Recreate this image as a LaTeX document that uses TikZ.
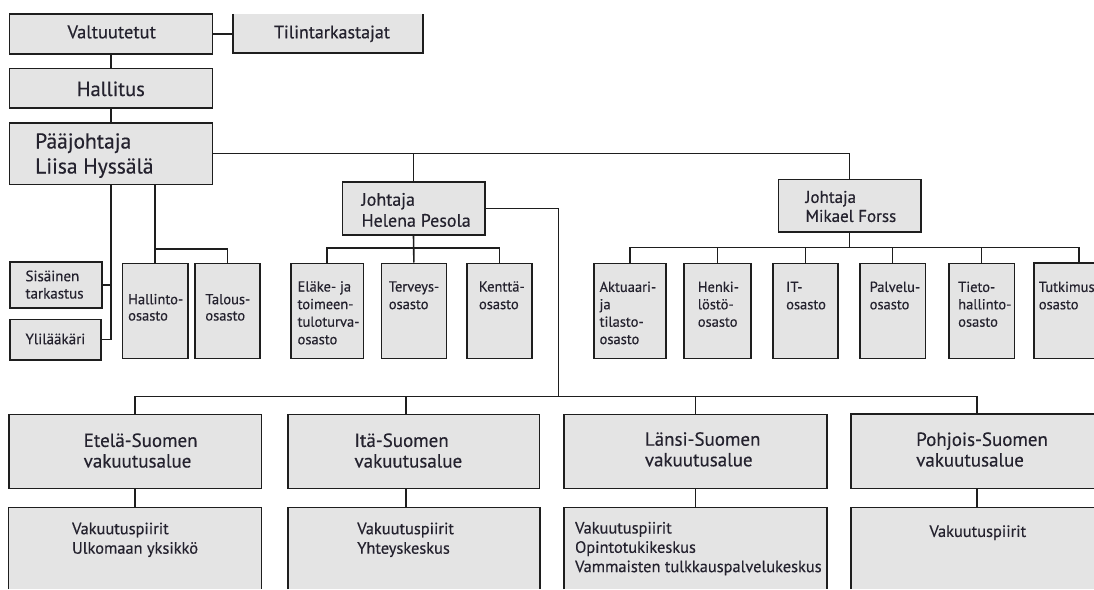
\documentclass[tikz,border=0pt]{standalone}
\usepackage{fontspec}
\setmainfont{PT Sans}[FakeBold=0.4]
\usetikzlibrary{fit}
\definecolor{boxfill}{HTML}{E4E4E4}
\definecolor{ink}{HTML}{1E1E1E}
\definecolor{txt}{HTML}{24222E}
\newcommand{\fs}[2]{\fontsize{#1}{#2}\selectfont}
\newcommand{\tp}{\rule{0pt}{0.85em}}
\tikzset{
  box/.style={draw=ink, line width=1.6pt, fill=boxfill, inner sep=0pt, rectangle},
  openbox/.style={draw=none, fill=boxfill, inner sep=0pt, rectangle},
  edge/.style={draw=ink, line width=1.6pt},
  lbl/.style={anchor=north west, inner sep=0pt, align=left, text=txt},
  clbl/.style={anchor=base, inner sep=0pt, text=txt},
}
% name, x, first baseline, size, leading, text
\newcommand{\tx}[6]{\node[lbl,font=\fs{#4}{#5}] (#1) at ({#2},{#3-0.85*#4}) {\tp #6};}
\begin{document}
\begin{tikzpicture}[x=1pt,y=-1pt]
\useasboundingbox (0,0) rectangle (1094,589);
% ---- boxes
\node[box, fit={(9.5,14) (212.6,54)}] (valt) {};
\node[openbox, fit={(233.2,14) (422.7,52.7)}] (tili) {};
\draw[edge] (tili.north west) -- (tili.south west) -- (tili.south east) -- (tili.north east);
\node[box, fit={(9.5,68.3) (212.6,107.7)}] (hall) {};
\node[box, fit={(9.5,122.7) (212.6,184.3)}] (paa) {};
\node[box, fit={(342.3,182) (484.7,235)}] (hel) {};
\node[box, fit={(778.3,179.3) (921,232)}] (mik) {};
\node[box, fit={(9.8,261.7) (102.1,307.7)}] (sis) {};
\node[box, fit={(9.8,319.3) (100.7,360)}] (yli) {};
\node[box, fit={(122.4,263.3) (187.7,358.3)}] (hal) {};
\node[box, fit={(195,263.3) (259.9,358.3)}] (tal) {};
\node[box, fit={(291.1,263.3) (363.4,358.3)}] (ela) {};
\node[box, fit={(381.3,263.3) (446.5,358.3)}] (ter) {};
\node[box, fit={(466.9,263.3) (532.1,358.3)}] (ken) {};
\node[box, fit={(594.2,263.3) (665.7,358.3)}] (akt) {};
\node[box, fit={(684,263.3) (751,358.3)}] (hen) {};
\node[box, fit={(773,263.3) (838,358.3)}] (it) {};
\node[box, fit={(859.7,263.3) (925.6,358.3)}] (pal) {};
\node[box, fit={(948.8,263.3) (1014.4,358.3)}] (tie) {};
\node[openbox, fit={(1034,263.3) (1094,358.3)}] (tut) {};
\draw[edge] (tut.north east) -- (tut.north west) -- (tut.south west) -- (tut.south east);
\node[box, fit={(8.8,414.3) (261.3,488.3)}] (ete) {};
\node[box, fit={(288,414.3) (539.5,488.3)}] (ita) {};
\node[box, fit={(564,414.3) (826.7,488.3)}] (lan) {};
\node[openbox, fit={(851.3,414.3) (1094,488.3)}] (poh) {};
\draw[edge] (poh.north east) -- (poh.north west) -- (poh.south west) -- (poh.south east);
\node[openbox, fit={(8.8,507.7) (261.3,589)}] (ete2) {};
\draw[edge] (ete2.south west) -- (ete2.north west) -- (ete2.north east) -- (ete2.south east);
\node[openbox, fit={(288,507.7) (539.5,589)}] (ita2) {};
\draw[edge] (ita2.south west) -- (ita2.north west) -- (ita2.north east) -- (ita2.south east);
\node[openbox, fit={(564,507.7) (826.7,589)}] (lan2) {};
\draw[edge] (lan2.south west) -- (lan2.north west) -- (lan2.north east) -- (lan2.south east);
\node[openbox, fit={(851.3,507.7) (1094,589)}] (poh2) {};
\draw[edge] (poh2.south west) -- (poh2.north west) -- (poh2.north east);
% ---- connectors
\draw[edge] (valt.east) -- (valt.east -| tili.west);
\draw[edge] (valt.south) -- (hall.north);
\draw[edge] (hall.south) -- (paa.north);
\draw[edge] (paa.east) -| (mik.north);
\draw[edge] (hel.north) -- (hel.north |- paa.east);
\draw[edge] (paa.south) |- (yli.east);
\draw[edge] (sis.east) -- (sis.east -| paa.south);
\coordinate (hbar) at ([yshift=13.3pt]hal.north);
\draw[edge] (hal.north) -- (hal.north |- paa.south);
\draw[edge] (hbar) -| (tal.north);
\coordinate (ebar) at ([yshift=14.3pt]ela.north);
\draw[edge] (hel.south) -- (ter.north);
\draw[edge] (ela.north) |- (ebar) -| (ken.north);
\coordinate (mbar) at ([yshift=15pt]akt.north);
\coordinate (tutc) at ([xshift=15pt]tut.north);
\draw[edge] (mik.south) -- (mik.south |- mbar);
\draw[edge] (akt.north) |- (mbar) -- (mbar -| tutc) -- (tutc);
\foreach \n in {hen,it,pal,tie} \draw[edge] (\n.north) -- (\n.north |- mbar);
\coordinate (rbar) at ([yshift=17pt]ete.north);
\coordinate (itac) at ([xshift=-7.5pt]ita.north);
\coordinate (itac2) at ([xshift=-7.5pt]ita2.north);
\coordinate (pohc) at ([xshift=4.5pt]poh.north);
\coordinate (pohc2) at ([xshift=4.5pt]poh2.north);
\draw[edge] (hel.east) -- ++(72.8,0) coordinate (hr) -- (hr |- rbar);
\draw[edge] (ete.north) |- (rbar) -- (rbar -| pohc) -- (pohc);
\draw[edge] (itac) -- (itac |- rbar);
\draw[edge] (lan.north) -- (lan.north |- rbar);
\draw[edge] (ete.south) -- (ete2.north);
\draw[edge] (itac2) -- (itac2 |- ita.south);
\draw[edge] (lan.south) -- (lan2.north);
\draw[edge] (pohc2) -- (pohc2 |- poh.south);
% ---- texts
\node[clbl, font=\fs{18.5}{22}] (t-valt) at (111.7,38.3) {Valtuutetut};
\node[clbl, font=\fs{18}{22}] (t-tili) at (332,38.3) {Tilintarkastajat};
\node[clbl, font=\fs{20.5}{24}] (t-hall) at (110.8,96) {Hallitus};
\tx{t-paa}{35}{148.3}{21.5}{25}{Pääjohtaja\\Liisa Hyssälä}
\tx{t-hel}{361.3}{205.5}{18}{21}{Johtaja\\Helena Pesola}
\tx{t-mik}{805.3}{202.7}{17}{19}{Johtaja\\Mikael Forss}
\tx{t-sis}{25.3}{281}{15}{17.3}{Sisäinen\\tarkastus}
\tx{t-yli}{25.3}{344}{15}{17.3}{Ylilääkäri}
\tx{t-hal}{128}{304}{14.5}{16.3}{Hallinto-\\osasto}
\tx{t-tal}{205.2}{304}{14.5}{16.3}{Talous-\\osasto}
\tx{t-ela}{297.4}{291.3}{14.5}{17.6}{Eläke- ja\\toimeen-\\tuloturva-\\osasto}
\tx{t-ter}{388.6}{291.3}{14.5}{17.6}{Terveys-\\osasto}
\tx{t-ken}{478.8}{291.3}{14.5}{17.6}{Kenttä-\\osasto}
\tx{t-akt}{599.4}{291.7}{14.5}{17.4}{Aktuaari-\\ja\\tilasto-\\osasto}
\tx{t-hen}{697.6}{291.7}{14.5}{17.4}{Henki-\\löstö-\\osasto}
\tx{t-it}{786}{291.7}{14.5}{17.4}{IT-\\osasto}
\tx{t-pal}{869.5}{291.7}{14.5}{17.4}{Palvelu-\\osasto}
\tx{t-tie}{958}{291.7}{14.5}{17.4}{Tieto-\\hallinto-\\osasto}
\tx{t-tut}{1038.6}{291.7}{14.5}{17.4}{Tutkimus\\osasto}
\tx{t-ete}{83.5}{446.7}{19}{20.6}{Etelä-Suomen\\vakuutusalue}
\tx{t-ita}{354.3}{446.7}{19}{20.6}{Itä-Suomen\\vakuutusalue}
\tx{t-lan}{644.7}{445.5}{19}{20.6}{Länsi-Suomen\\vakuutusalue}
\tx{t-poh}{916}{445.7}{19}{20.6}{Pohjois-Suomen\\vakuutusalue}
\tx{t-ete2}{71.9}{534}{16.4}{19.5}{Vakuutuspiirit\\Ulkomaan yksikkö}
\tx{t-ita2}{357.1}{534}{16.4}{19.5}{Vakuutuspiirit\\Yhteyskeskus}
\tx{t-lan2}{574.9}{533.3}{16.4}{19.3}{Vakuutuspiirit\\Opintotukikeskus\\Vammaisten tulkkauspalvelukeskus}
\tx{t-poh2}{929.3}{536.7}{16.4}{19.5}{Vakuutuspiirit}
\end{tikzpicture}
\end{document}
